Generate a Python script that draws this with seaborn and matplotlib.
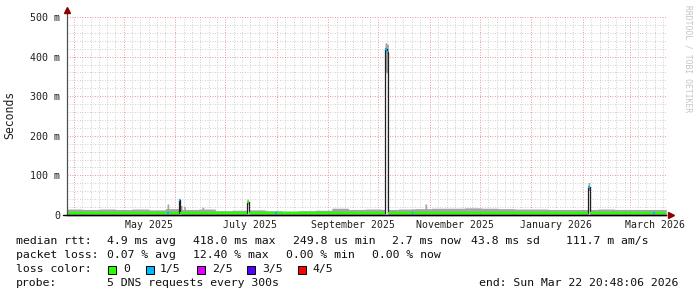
import numpy as np
import pandas as pd
import matplotlib
matplotlib.use("Agg")
import matplotlib.pyplot as plt
import matplotlib.dates as mdates
from matplotlib.patches import Rectangle
import matplotlib.transforms as mtrans
import seaborn as sns

sns.set_theme(style="white")
plt.rcParams["font.family"] = ["DejaVu Sans Mono", "DejaVu Sans"]

# ---------------- data ----------------
START = "2025-03-27 20:48:06"
END = "2026-03-22 20:48:06"

# baseline, in 10-day blocks starting 2025-03-27 (ms)
block_hi = [15, 14, 15, 14, 15, 13, 16, 14, 15, 11, 12, 13, 11, 10, 11, 12, 17, 14,
            15, 14, 15, 16, 17, 17, 18, 17, 16, 15, 15, 14, 14, 14, 15, 14, 14, 14]
block_med = [4.6, 4.6, 4.5, 4.6, 4.5, 4.5, 4.6, 4.5, 4.4, 4.2, 4.2, 4.3, 4.2, 4.1,
             4.2, 4.3, 4.8, 4.6, 4.6, 4.6, 4.7, 4.8, 4.9, 4.9, 5.0, 4.9, 4.8, 4.7,
             4.7, 4.6, 4.6, 4.6, 4.7, 4.6, 4.6, 4.6]
block_lo = [2.6] * 36

# single days that stand out
event_days = ["2025-05-27", "2025-06-03", "2025-06-04", "2025-06-06", "2025-06-17",
              "2025-07-14", "2025-07-31", "2025-10-05", "2025-10-06", "2025-10-21",
              "2025-10-29", "2026-02-04", "2026-03-15"]
event_hi = [28, 42, 24, 22, 20, 40, 11, 435, 432, 16, 28, 82, 14]
event_lo = [2.6, 12, 2.6, 2.6, 2.6, 28, 2.6, 360, 358, 2.6, 2.6, 62, 2.6]
event_med = [4.8, 38, 6, 5.5, 5, 33, 4.3, 418, 412, 4.8, 5, 70, 4.6]
event_loss = [1, 1, 0, 0, 0, 0, 1, 1, 1, 1, 0, 1, 1]

loss_labels = ["0", "1/5", "2/5", "3/5", "4/5"]
loss_colors = ["#26ff00", "#00b8ff", "#dd00ff", "#5500ff", "#ff0000"]

y_ticks = [0, 100, 200, 300, 400, 500]
y_ticklabels = ["0", "100 m", "200 m", "300 m", "400 m", "500 m"]
label_months = ["2025-05-01", "2025-07-01", "2025-09-01", "2025-11-01",
                "2026-01-01", "2026-03-01"]

# ---------------- build daily table ----------------
days = pd.date_range("2025-03-27", "2026-03-22", freq="D")
idx = np.minimum((days - days[0]).days // 10, 35)
df = pd.DataFrame({
    "day": days,
    "hi": np.array(block_hi, float)[idx],
    "lo": np.array(block_lo, float)[idx],
    "med": np.array(block_med, float)[idx],
    "loss": 0,
})
ev = pd.DataFrame({"day": pd.to_datetime(event_days), "hi": event_hi,
                   "lo": event_lo, "med": event_med, "loss": event_loss})
df = df.set_index("day")
df.loc[ev["day"], ["hi", "lo", "med", "loss"]] = ev[["hi", "lo", "med", "loss"]].values
df = df.reset_index()

edges = list(df["day"]) + [df["day"].iloc[-1] + pd.Timedelta(days=1)]
hi_e = list(df["hi"]) + [df["hi"].iloc[-1]]
lo_e = list(df["lo"]) + [df["lo"].iloc[-1]]
med_e = list(df["med"]) + [df["med"].iloc[-1]]

# ---------------- figure ----------------
W, H = 697, 297
fig = plt.figure(figsize=(W / 100, H / 100), dpi=100)
fig.patch.set_facecolor("white")
ax = fig.add_axes([67 / W, (H - 215) / H, 599 / W, 198 / H])
ax.set_facecolor("white")

# smoke
ax.fill_between(edges, lo_e, hi_e, step="post", color="#a4a4a4", lw=0, zorder=2)
# dark median trace
sns.lineplot(x=edges, y=med_e, drawstyle="steps-post", color="#202020",
             lw=0.9, ax=ax, zorder=3)
# loss-coloured median
for k, c in enumerate(loss_colors):
    sub = df[df["loss"] == k]
    if len(sub):
        ax.hlines(sub["med"], sub["day"], sub["day"] + pd.Timedelta(days=1),
                  color=c, lw=1.7, zorder=4, capstyle="butt")

ax.set_xlim(pd.Timestamp(START), pd.Timestamp(END))
ax.set_ylim(0, 500)

# grid
ax.xaxis.set_major_locator(mdates.MonthLocator())
ax.xaxis.set_minor_locator(mdates.DayLocator(bymonthday=[6, 11, 16, 21, 26]))
ax.set_yticks(y_ticks)
ax.set_yticklabels(y_ticklabels)
ax.yaxis.set_minor_locator(matplotlib.ticker.MultipleLocator(20))
ax.grid(which="minor", color="#c0c0c0", lw=0.6, ls=(0, (1, 2)), zorder=0)
ax.grid(which="major", color="#e07878", lw=0.6, ls=(0, (1, 2)), zorder=1)
ax.tick_params(axis="x", which="both", length=0, labelbottom=False)
ax.tick_params(axis="y", which="both", length=0, pad=5, labelsize=7.2,
               labelcolor="#202020")
for lab in ax.get_yticklabels():
    lab.set_fontfamily("DejaVu Sans Mono")

for s in ["top", "right", "left"]:
    ax.spines[s].set_visible(False)
ax.spines["bottom"].set_color("black")
ax.spines["bottom"].set_linewidth(1.0)
ax.spines["bottom"].set_zorder(6)

# month labels centred in the month
tr = mtrans.blended_transform_factory(ax.transData, ax.transAxes)
for m in label_months:
    t = pd.Timestamp(m)
    ax.text(t + pd.Timedelta(days=15), -0.048, t.strftime("%B %Y"), transform=tr,
            ha="center", va="center", fontsize=7.1, color="#202020", clip_on=False)

# axis lines with arrows
ax.plot([0, 0], [0, 1.02], transform=ax.transAxes, color="#505050", lw=0.9,
        clip_on=False, zorder=6)
ax.plot([-0.006, 1.0], [0, 0], transform=ax.transAxes, color="black", lw=1.0,
        clip_on=False, zorder=6)
ax.plot([0], [1.035], marker="^", ms=4, color="#8b0000", transform=ax.transAxes,
        clip_on=False, zorder=7)
ax.plot([1.008], [0], marker=">", ms=4, color="#8b0000", transform=ax.transAxes,
        clip_on=False, zorder=7)

# labels
fig.text(10 / W, 1 - 115 / H, "Seconds", rotation=90, ha="center", va="center",
         fontsize=8.3, color="#202020")
fig.text(688 / W, 1 - 5 / H, "RRDTOOL / TOBI OETIKER", rotation=270, ha="center",
         va="top", fontsize=5.8, color="#c4c4c4")

fs = 8.25
def put(x, y, s):
    fig.text(x / W, 1 - y / H, s, ha="left", va="center", fontsize=fs, color="#101010")

put(16, 241, "median rtt:")
put(107.3, 241, "4.9 ms avg")
put(193.3, 241, "418.0 ms max")
put(293.3, 241, "249.8 us min")
put(392, 241, "2.7 ms now")
put(471, 241, "43.8 ms sd")
put(566, 241, "111.7 m am/s")

put(16, 255, "packet loss:")
put(107.3, 255, "0.07 % avg")
put(193.3, 255, "12.40 % max")
put(286, 255, "0.00 % min")
put(372.3, 255, "0.00 % now")

put(16, 269, "loss color:")
sq_x = [108.3, 145.7, 196.7, 247.3, 298.3]
lab_x = [123.3, 160, 211.7, 262.3, 312.7]
for c, lbl, sx, lx in zip(loss_colors, loss_labels, sq_x, lab_x):
    fig.add_artist(Rectangle((sx / W, 1 - 273.5 / H), 8 / W, 8 / H,
                             transform=fig.transFigure, facecolor=c,
                             edgecolor="black", lw=0.7))
    put(lx, 269, lbl)

put(16, 283, "probe:")
put(107.3, 283, "5 DNS requests every 300s")
put(479, 283, "end: Sun Mar 22 20:48:06 2026")

fig.savefig("out.png", dpi=100, facecolor="white")
